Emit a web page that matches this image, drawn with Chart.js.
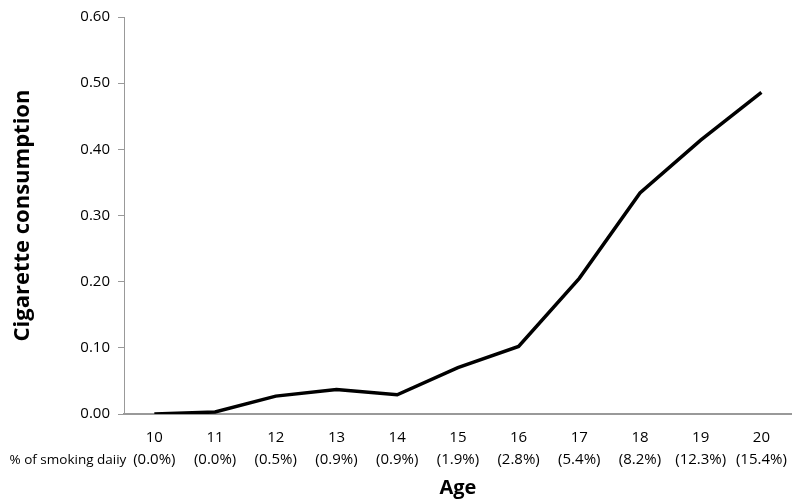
<!DOCTYPE html>
<html>
<head>
<meta charset="utf-8">
<script src="https://cdn.jsdelivr.net/npm/chart.js@4"></script>
<style>
  html, body { margin: 0; padding: 0; background: #fff; }
  #wrap { width: 800px; height: 504px; }
</style>
</head>
<body>
<div id="wrap"><canvas id="chart"></canvas></div>
<script>
const AGES = ["10", "11", "12", "13", "14", "15", "16", "17", "18", "19", "20"];
const PCT_DAILY = ["(0.0%)", "(0.0%)", "(0.5%)", "(0.9%)", "(0.9%)", "(1.9%)", "(2.8%)", "(5.4%)", "(8.2%)", "(12.3%)", "(15.4%)"];
const CONSUMPTION = [0.000, 0.003, 0.027, 0.037, 0.029, 0.070, 0.102, 0.205, 0.334, 0.414, 0.486];
const Y_TICKS = [0, 0.1, 0.2, 0.3, 0.4, 0.5, 0.6];

const FONT = "'Open Sans', 'DejaVu Sans', sans-serif";
const AXIS_GREY = "#999";

// "% of smoking daiiy" label to the left of the second tick row
const rowLabel = {
  id: "rowLabel",
  afterDraw(chart) {
    const { ctx, scales: { x } } = chart;
    const text = "% of smoking daiiy";
    const right = x.getPixelForValue(0) - 28;
    ctx.save();
    let size = 15;
    ctx.font = size + "px " + FONT;
    // shrink until it fits the left margin
    while (ctx.measureText(text).width > right - 8 && size > 10) {
      size -= 0.5;
      ctx.font = size + "px " + FONT;
    }
    ctx.fillStyle = "#000";
    ctx.textAlign = "right";
    ctx.textBaseline = "middle";
    ctx.fillText(text, right, x.top + 46);
    ctx.restore();
  }
};

new Chart(document.getElementById("chart"), {
  type: "line",
  data: {
    labels: AGES.map((a, i) => [a, PCT_DAILY[i]]),
    datasets: [{
      data: CONSUMPTION,
      borderColor: "#000",
      borderWidth: 3.5,
      pointRadius: 0,
      tension: 0,
      fill: false
    }]
  },
  options: {
    responsive: true,
    maintainAspectRatio: false,
    animation: false,
    layout: { padding: { top: 12, right: 3, left: 0, bottom: 0 } },
    plugins: { legend: { display: false }, tooltip: { enabled: false } },
    scales: {
      x: {
        offset: true,
        grid: { display: false, drawTicks: false },
        border: { display: true, color: AXIS_GREY, width: 2 },
        ticks: {
          color: "#000",
          font: { family: FONT, size: 15, lineHeight: 1.45 },
          padding: 13,
          maxRotation: 0,
          autoSkip: false
        },
        title: {
          display: true,
          text: "Age",
          color: "#000",
          font: { family: FONT, size: 20, weight: "bold" },
          padding: { top: 8 }
        },
        afterFit: s => { s.height = 90; }
      },
      y: {
        min: 0,
        max: 0.6,
        afterBuildTicks: s => { s.ticks = Y_TICKS.map(v => ({ value: v })); },
        grid: { drawOnChartArea: false, drawTicks: true, tickLength: 6, color: AXIS_GREY, tickWidth: 1 },
        border: { display: true, color: AXIS_GREY, width: 1 },
        ticks: {
          color: "#000",
          font: { family: FONT, size: 15 },
          padding: 8,
          callback: v => Number(v).toFixed(2)
        },
        title: {
          display: true,
          text: "Cigarette consumption",
          color: "#000",
          font: { family: FONT, size: 22, weight: "bold" },
          padding: { top: 10, bottom: 0 }
        },
        afterFit: s => { s.width = 124; }
      }
    }
  },
  plugins: [rowLabel]
});
</script>
</body>
</html>
